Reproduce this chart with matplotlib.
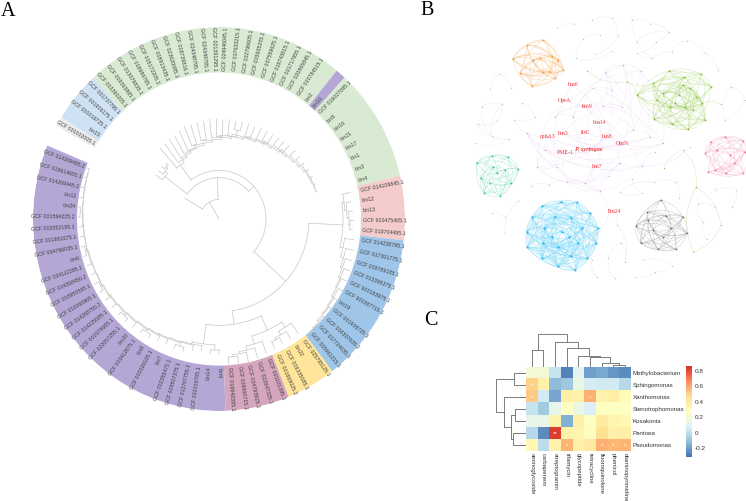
import numpy as np
import matplotlib
matplotlib.use('Agg')
import matplotlib.pyplot as plt
from matplotlib.path import Path
from matplotlib.patches import PathPatch
from matplotlib.colors import LinearSegmentedColormap

W, H = 746, 501
plt.rcParams['font.family'] = ['Liberation Sans', 'DejaVu Sans']

# ---------- panel A data: ring bands, clockwise from the grey outgroup
band_edges = [151, 148, 132.5, 50.7, 47.5, 13, -6.4, -52.5, -68, -88, -202.5]
band_colors = ['#ececec', '#cfe2f3', '#d9ead3', '#b4a7d6', '#d9ead3', '#f4cccc',
               '#9fc5e8', '#ffe599', '#d5a6bd', '#b4a7d6']
grey_labels = ['GCF 000002005.1']
lightblue_labels = ['bin15', 'GCF 000019725.1', 'GCF 001906175.1', 'GCF 001737795.1']
green_labels = ['GCF 003390205.1', 'GCF 009363865.1', 'GCF 013079835.1', 'GCF 008986765.1',
                'GCF 005172205.2', 'GCF 008913435.1', 'GCF 023620085.1', 'GCF 008739816.1',
                'GCF 024348795.1', 'GCF 024349785.1', 'GCF 021391295.1', 'GCF 024946045.1',
                'GCF 007633215.1', 'GCF 002796605.1', 'GCF 005935205.1', 'GCF 007559625.1',
                'GCF 016743815.1', 'GCF 001717955.1', 'GCF 020865845.1', 'GCF 000784515.1',
                'bin2']
bin10_labels = ['bin10']
green2_labels = ['GCF 016027095.1', 'bin5', 'bin16', 'bin21', 'bin17', 'bin1', 'bin3', 'bin4']
pink_labels = ['GCF 014109845.1', 'bin12', 'bin13', 'GCF 900475405.1', 'GCF 019704495.1']
blue_labels = ['GCF 014238795.1', 'GCF 017301775.1', 'GCF 009789185.1', 'GCF 013398375.1',
               'GCF 900183975.1', 'GCF 900367715.1', 'bin19', 'GCF 001908725.1',
               'GCF 008337635.2', 'GCF 017724035.1', 'GCF 005961215.1']
yellow_labels = ['GCF 025795125.1', 'bin22', 'GCF 006335085.1', 'GCF 001669025.2']
mauve_labels = ['GCF 001101395.1', 'GCF 022847325.1', 'GCF 004793915.1', 'GCF 008660715.1',
                'GCF 016948395.1']
purple_labels = ['bin9', 'bin14', 'GCF 000006765.1', 'GCF 012767755.2', 'GCF 008807375.1',
                 'GCF 002355475.1', 'bin7', 'GCF 000026105.1', 'bin8', 'GCF 000412675.1',
                 'bin20', 'GCF 022057255.1', 'GCF 000078605.1', 'GCF 014225585.1',
                 'GCF 014268755.2', 'GCF 002060965.1', 'GCF 003950565.1', 'GCF 014268450.2',
                 'GCF 024112395.1', 'bin6', 'GCF 004796035.1', 'GCF 001981075.1',
                 'GCF 003352185.1', 'GCF 001594225.2', 'bin24', 'bin11', 'GCF 014269445.2',
                 'GCF 019614655.1', 'GCF 014269485.2']
band_labels = [grey_labels, lightblue_labels, green_labels, bin10_labels, green2_labels,
               pink_labels, blue_labels, yellow_labels, mauve_labels, purple_labels]


def comb(nodes, tips):
    # ladder tree: node radii from the root outwards, one side tip per node
    sub = tips[-1]
    for n, t in zip(reversed(nodes), reversed(tips[:-1])):
        sub = (n, t, sub)
    return sub


# tree as (node radius, child, child), a bare number is a tip radius
lightblue_clade = comb([68, 71, 73], [76, 76, 76, 75])
green_clade = comb(
    [65, 68, 70, 72, 73, 75, 77, 79, 81, 83, 85, 86, 88, 90, 92, 94, 96, 98, 99, 100, 100.5],
    [90, 91, 92, 92, 94, (76, 96, 95), (78, 96, 96), 97, (80, 97, 96), (81, 97, (88, 96, 97)),
     (84, 97, 96), 98, (87, 98, 97), 99, (90, 99, 100), 101, 101, 101, 102, 102, 102, 102])
pink_clade = comb([126, 128, 130, 131], [134, 133, 134, 135, 134])
blue_clade = comb([127, 130, 132, 134, 135, 137, 138, 139, 141, 142],
                  [136, 138, 139, 140, 141, 142, 143, 143, 144, 144, 144])
yellow_clade = comb([124, 128, 130], [136, 136, 136, 137])
mauve_clade = comb([126, 130, 132, 134], [138, 140, 141, 141, 141])
purple_clade = comb(
    [122, 124, 125, 126, 127, 128, 129, 130, 131, 132, 133, 133.5, 134, 135, 135.5, 136, 136.5,
     137, 137.5, 138, 138.5],
    [(127, 131, 131), 129, 130, (129, 133, 133), 132, 133, (131, 135, 135), 136, (133, 137, 137),
     137, 138, (135, 139, 139), 139, 139, (137, 140, 140), 140, 140, (139, 141, 141), 141, 141,
     141, 141])
tree = (19, 40,
        (40, lightblue_clade,
         (47, green_clade,
          (90, (124, pink_clade, blue_clade),
           (103, (118, yellow_clade, mauve_clade), purple_clade)))))

# ---------- panel B data, in one crop frame (x = 430 + u / 3, y = v / 3)
orange_nodes = [(340, 120), (292, 135), (365, 168), (248, 177), (385, 180), (400, 210), (308, 180),
                (360, 215), (338, 217), (270, 220), (305, 258), (375, 235), (330, 175)]
lime_nodes = [(717, 213), (813, 222), (843, 260), (762, 232), (670, 250), (622, 285), (680, 300),
              (720, 320), (672, 357), (725, 372), (775, 388), (825, 360), (817, 310), (765, 320),
              (780, 265), (700, 280), (748, 285), (790, 330), (760, 255), (735, 310), (800, 290)]
pink_nodes = [(842, 425), (885, 410), (940, 422), (825, 460), (860, 450), (900, 465), (945, 455),
              (888, 520), (940, 520), (855, 510), (915, 490), (835, 515)]
teal_nodes = [(185, 468), (233, 470), (140, 488), (265, 508), (152, 535), (200, 520), (242, 550),
              (163, 580), (210, 587), (190, 500), (225, 510), (180, 550)]
cyan_nodes = [(337, 617), (393, 605), (440, 607), (480, 640), (503, 685), (498, 730), (472, 775),
              (435, 810), (383, 798), (337, 775), (292, 742), (290, 695), (307, 652), (375, 650),
              (423, 653), (455, 685), (343, 683), (383, 742), (423, 768), (338, 730), (395, 695),
              (445, 730), (418, 710), (365, 710)]
dark_nodes = [(693, 600), (652, 637), (707, 647), (758, 650), (618, 678), (670, 690), (722, 685),
              (770, 700), (632, 728), (685, 748), (737, 747), (700, 712), (655, 660)]
lilac_nodes = [(430, 350), (375, 350), (460, 318), (490, 265), (518, 318), (575, 320), (545, 270),
               (525, 215), (578, 195), (632, 212), (610, 390), (660, 410), (700, 430), (397, 400),
               (467, 396), (529, 410), (577, 431), (477, 447), (405, 458), (352, 410), (345, 450),
               (292, 400), (380, 500), (322, 500), (465, 550), (510, 572), (410, 545), (570, 490),
               (635, 497), (498, 500), (427, 255), (402, 301), (507, 367)]
lilac_chains = [[(303, 557), (357, 555), (465, 550), (537, 628), (500, 700)],
                [(510, 572), (537, 528), (570, 490)],
                [(500, 700), (485, 780), (500, 832)],
                [(537, 628), (562, 675), (585, 785)],
                [(675, 455), (635, 497), (780, 440)]]
pale_chains = [[(380, 85), (432, 72)], [(487, 60), (545, 55), (563, 105), (495, 163)],
               [(510, 105), (460, 118), (438, 175), (545, 153)],
               [(605, 60), (660, 72), (717, 95), (677, 125), (622, 160), (667, 175), (605, 60)],
               [(620, 125), (717, 95)], [(667, 175), (725, 155), (772, 122), (825, 160), (865, 210)],
               [(902, 260), (945, 300), (885, 360), (902, 260)],
               [(155, 320), (215, 313), (200, 362), (143, 372), (185, 408), (155, 320)],
               [(215, 313), (185, 408), (237, 417), (135, 430)],
               [(180, 268), (208, 222), (243, 265)], [(275, 310), (315, 350), (253, 360), (292, 400)],
               [(265, 602), (225, 698)], [(185, 640), (225, 650)],
               [(855, 570), (918, 570), (905, 620)], [(855, 622), (803, 613), (818, 665), (830, 718)],
               [(747, 595), (737, 547), (673, 547), (570, 577), (635, 580), (605, 538)],
               [(573, 728), (535, 775), (555, 835)], [(615, 832), (675, 815), (725, 797), (638, 780)],
               [(585, 785), (573, 728)]]
lime_chains = [[(472, 212), (590, 245), (670, 250)], [(590, 245), (622, 285)],
               [(798, 562), (872, 675), (790, 755), (798, 562)], [(702, 503), (760, 450), (798, 562)],
               [(817, 310), (873, 313)]]
gene_labels = ['bin6', 'OprA', 'bin9', 'bin14', 'tlrC', 'bin3', 'cphA3', 'bin8', 'OprN', 'PME-1',
               'bin7', 'bin24']
gene_x = [427, 402, 470, 507, 467, 397, 352, 529, 577, 405, 498, 550]
gene_y = [254, 301, 319, 367, 396, 400, 410, 410, 431, 458, 500, 635]

# ---------- panel C data
drug_names = ['aminoglycoside', 'carbapenem', 'streptogramin', 'rifamycin', 'glycopeptide',
              'tetracycline', 'fluoroquinolone', 'phenicol', 'diaminopyrimidine']
genus_names = ['Methylobacterium', 'Sphingomonas', 'Xanthomonas', 'Stenotrophomonas', 'Kosakonia',
               'Pantoea', 'Pseudomonas']
corr = np.array([
    [0.20, 0.20, 0.02, -0.27, 0.10, -0.20, -0.17, -0.22, -0.25],
    [0.50, 0.35, -0.12, -0.08, 0.14, 0.06, 0.05, 0.05, -0.02],
    [0.52, 0.05, -0.18, 0.38, 0.36, 0.58, 0.35, 0.38, 0.30],
    [0.02, -0.07, 0.13, 0.27, 0.15, 0.07, 0.27, 0.27, 0.27],
    [0.13, 0.13, 0.35, -0.15, 0.38, 0.27, 0.40, 0.34, 0.32],
    [-0.02, -0.25, 0.83, 0.36, 0.33, 0.28, 0.45, 0.37, 0.38],
    [0.32, 0.00, 0.35, 0.57, 0.37, 0.40, 0.58, 0.56, 0.57]])
stars = {(1, 0): '*', (2, 0): '*', (2, 5): '*', (5, 2): '**', (6, 3): '*', (6, 6): '*', (6, 7): '*',
         (6, 8): '*'}
drug_tree = (32.3, (16.7, 0, 0),
             (24.3, 0, (18.3, 0, (11, 0, (9.3, 0, (3.3, 0, (2, 0, 0)))))))
genus_tree = (30.3, (11.7, 0, 0), (21.7, 0, (15, (11, 0, 0), (12.7, 0, 0))))

fig = plt.figure(figsize=(W / 100, H / 100), dpi=100)


def axes_px(left, top, right, bottom, **kw):
    return fig.add_axes([left / W, 1 - bottom / H, (right - left) / W, (bottom - top) / H], **kw)


# ---------- panel A
ax_tree = axes_px(33, 27, 405, 411, projection='polar')
ax_tree.set_aspect('auto')
ax_tree.set_ylim(0, 186)
ax_tree.axis('off')
inner_r = 142
leaf_angles = []
for i, labels in enumerate(band_labels):
    a0, a1 = band_edges[i], band_edges[i + 1]
    ax_tree.bar(np.radians((a0 + a1) / 2), 186 - inner_r, width=np.radians(a0 - a1), bottom=inner_r,
                color=band_colors[i], linewidth=0)
    step = (a1 - a0) / len(labels)
    for k, name in enumerate(labels):
        ang = a0 + (k + 0.5) * step
        leaf_angles.append(ang)
        wrapped = (ang + 180) % 360 - 180
        right_side = abs(wrapped) <= 90
        ax_tree.text(np.radians(ang), inner_r + 2, name, fontsize=3.8, color='#404040', va='center',
                     ha='left' if right_side else 'right', rotation_mode='anchor',
                     rotation=wrapped if right_side else wrapped - 180)

leaf_iter = iter(leaf_angles)


def draw_tree(node, parent_r):
    # returns the angle of this node, draws its arc and the branch towards the parent
    if isinstance(node, tuple):
        r = node[0]
        kids = [draw_tree(c, r) for c in node[1:]]
        ang = (kids[0] + kids[-1]) / 2
        arc = np.radians(np.linspace(kids[0], kids[-1], 40))
        ax_tree.plot(arc, np.full(40, r), color='#c6c6c6', lw=0.5)
    else:
        r = node
        ang = next(leaf_iter)
    ax_tree.plot(np.radians([ang, ang]), [parent_r, r], color='#c6c6c6', lw=0.5)
    return ang


draw_tree(tree, 0)

# ---------- panel B
ax = axes_px(0, 0, W, H)
ax.set_xlim(0, W)
ax.set_ylim(H, 0)
ax.axis('off')


def to_px(pts):
    pts = np.asarray(pts, dtype=float)
    return np.column_stack([430 + pts[:, 0] / 3, pts[:, 1] / 3])


def curve(p, q, center, color, alpha, lw, bend=0.22):
    mid = (p + q) / 2
    d = q - p
    perp = np.array([-d[1], d[0]])
    if np.dot(perp, mid - center) < 0:
        perp = -perp
    ctrl = mid + bend * perp
    path = Path([p, ctrl, q], [Path.MOVETO, Path.CURVE3, Path.CURVE3])
    ax.add_patch(PathPatch(path, fc='none', ec=color, alpha=alpha, lw=lw))


def cluster(nodes, color, edge_alpha, gaps, size, node_color):
    # gaps: which index distances are joined, the real edges cannot be read off the picture
    pts = to_px(nodes)
    center = pts.mean(axis=0)
    for i in range(len(pts)):
        for j in range(i + 1, len(pts)):
            if j - i in gaps:
                curve(pts[i], pts[j], center, color, edge_alpha, 0.3)
    ax.scatter(pts[:, 0], pts[:, 1], s=size, color=node_color, linewidths=0, zorder=3)


def chains(groups, color, alpha, lw, node_color):
    for chain in groups:
        pts = to_px(chain)
        center = pts.mean(axis=0) if len(pts) > 2 else pts.mean(axis=0) + [0, 5]
        for p, q in zip(pts[:-1], pts[1:]):
            curve(p, q, center, color, alpha, lw, bend=0.25)
        ax.scatter(pts[:, 0], pts[:, 1], s=0.9, color=node_color, linewidths=0, zorder=3)


cluster(orange_nodes, '#f5b266', 0.6, (1, 2, 3, 4, 5, 7, 9), 1.6, '#f09a30')
cluster(lime_nodes, '#a5d46a', 0.55, (1, 2, 3, 5, 6, 8, 11, 13), 1.6, '#7fb83c')
cluster(pink_nodes, '#f7a3c0', 0.6, (1, 2, 3, 4, 5, 7, 9), 1.6, '#ee6f9b')
cluster(teal_nodes, '#78dcb9', 0.6, (1, 2, 3, 4, 5, 7), 1.6, '#3dbb92')
cluster(cyan_nodes, '#6fd6fa', 0.5, tuple(range(1, 16)), 2.2, '#1fb4ec')
cluster(dark_nodes, '#9c9c9c', 0.6, (1, 2, 3, 4, 5, 6, 8), 1.6, '#6f6f6f')
cluster(lilac_nodes, '#e7cdf1', 0.45, (1, 3, 8), 1.0, '#c9a6d8')
chains(lilac_chains, '#e9d5f2', 0.7, 0.3, '#cdaedb')
chains(pale_chains, '#e2e2e2', 0.7, 0.3, '#c2c2c2')
chains(lime_chains, '#cfe6a6', 0.8, 0.35, '#93c754')

gene_xy = to_px(np.column_stack([gene_x, gene_y]))
for name, (gx, gy) in zip(gene_labels, gene_xy):
    ax.text(gx, gy, name, family='Liberation Serif', fontsize=4.2, color='#f23a3a', ha='center', va='center',
            zorder=5)
sx, sy = to_px([(477, 447)])[0]
ax.text(sx, sy, 'P. syringae', family='Liberation Serif', fontsize=4.4, color='#f23a3a', style='italic',
        weight='bold', ha='center', va='center', zorder=5)

for letter, lx, ly in [('A', 1, 16), ('B', 420, 15), ('C', 424, 325)]:
    ax.text(lx, ly, letter, family='Liberation Serif', fontsize=14.5, color='black', ha='left', va='baseline')

# ---------- panel C
hm_left, hm_right, hm_top, hm_bottom = 526, 630.7, 366.7, 451
pheat = LinearSegmentedColormap.from_list(
    'pheat', ['#4575b4', '#91bfdb', '#e0f3f8', '#ffffbf', '#fee090', '#fc8d59', '#d73027'])
cmap_min, cmap_max = -0.31, 0.86
ax_hm = axes_px(hm_left, hm_top, hm_right, hm_bottom)
ax_hm.imshow(corr, cmap=pheat, vmin=cmap_min, vmax=cmap_max, aspect='auto')
ax_hm.set_xticks(range(len(drug_names)), drug_names, rotation=270, fontsize=4.3, color='#333333')
ax_hm.set_yticks(range(len(genus_names)), genus_names, fontsize=4.4, color='#333333')
ax_hm.yaxis.tick_right()
ax_hm.tick_params(length=0, pad=1.5)
for s in ax_hm.spines.values():
    s.set_visible(False)
for (row, col), mark in stars.items():
    ax_hm.text(col, row + 0.08, mark, color='white', fontsize=4.5, ha='center', va='center')


def dendro(ax_d, node, next_leaf, horizontal):
    # returns (leaf position, height), leaves are numbered left to right / top to bottom
    if not isinstance(node, tuple):
        pos = next_leaf[0]
        next_leaf[0] += 1
        return pos, 0
    kids = [dendro(ax_d, c, next_leaf, horizontal) for c in node[1:]]
    h = node[0]
    (p0, h0), (p1, h1) = kids[0], kids[-1]
    xs, ys = [p0, p0, p1, p1], [h0, h, h, h1]
    if horizontal:
        xs, ys = ys, xs
    ax_d.plot(xs, ys, color='#666666', lw=0.6, solid_capstyle='butt')
    return (p0 + p1) / 2, h


ax_top = axes_px(hm_left, 332, hm_right, hm_top)
ax_top.set_xlim(-0.5, 8.5)
ax_top.set_ylim(0, hm_top - 332)
ax_top.axis('off')
dendro(ax_top, drug_tree, [0], False)

ax_side = axes_px(494, hm_top, hm_left, hm_bottom)
ax_side.set_xlim(hm_left - 494, 0)
ax_side.set_ylim(6.5, -0.5)
ax_side.axis('off')
dendro(ax_side, genus_tree, [0], True)

ax_cb = axes_px(686, 366, 691.7, 456.7)
grad = np.linspace(cmap_max, cmap_min, 256).reshape(-1, 1)
ax_cb.imshow(grad, cmap=pheat, vmin=cmap_min, vmax=cmap_max, aspect='auto',
             extent=[0, 1, cmap_min, cmap_max])
ax_cb.set_xticks([])
ax_cb.yaxis.tick_right()
ax_cb.set_yticks([-0.2, 0, 0.2, 0.4, 0.6, 0.8], ['-0.2', '0', '0.2', '0.4', '0.6', '0.8'],
                 fontsize=4.6, color='#333333')
ax_cb.tick_params(length=0, pad=2)
for s in ax_cb.spines.values():
    s.set_visible(False)

fig.savefig('out.png', dpi=100)
